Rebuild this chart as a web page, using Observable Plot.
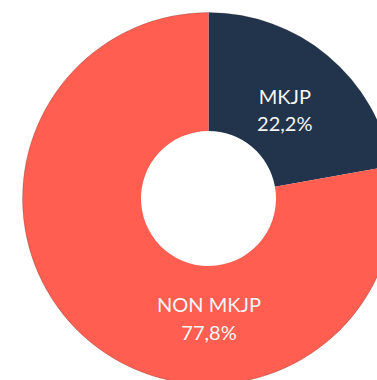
<!DOCTYPE html>
<html>
<head>
<meta charset="utf-8">
<script src="https://cdn.jsdelivr.net/npm/d3@7"></script>
<script src="https://cdn.jsdelivr.net/npm/@observablehq/plot@0.6"></script>
<style>
  html, body { margin: 0; padding: 0; background: #fff; }
  #chart { width: 377px; height: 380px; }
</style>
</head>
<body>
<div id="chart"></div>
<script>
// Data
const categories = ["MKJP", "NON MKJP"];
const values = [22.2, 77.8];
const valueLabels = ["22,2%", "77,8%"];
const colors = ["#22344b", "#ff5e50"];

// Layout
const W = 377, H = 380;
const R_OUTER = 186, R_INNER = 67.5, R_LABEL = 118;
const labelAngleOverride = [null, Math.PI]; // large slice label sits at the bottom

const data = categories.map((c, i) => ({category: c, value: values[i], label: valueLabels[i], color: colors[i]}));
const arcs = d3.pie().sort(null).value(d => d.value)(data);

const labelData = arcs.map((a, i) => {
  const ang = labelAngleOverride[i] ?? (a.startAngle + a.endAngle) / 2;
  return {
    x: R_LABEL * Math.sin(ang),
    y: R_LABEL * Math.cos(ang),
    text: a.data.category + "\n" + a.data.label
  };
});

const donutMark = (index, scales) => {
  const g = d3.create("svg:g")
    .attr("transform", `translate(${scales.x(0)},${scales.y(0)})`);
  const k = Math.abs(scales.x(1) - scales.x(0));
  const arc = d3.arc().innerRadius(R_INNER * k).outerRadius(R_OUTER * k);
  g.selectAll("path")
    .data(arcs)
    .join("path")
    .attr("d", arc)
    .attr("fill", d => d.data.color)
    .attr("stroke", "none");
  g.append("circle")
    .attr("r", R_OUTER * k)
    .attr("fill", "none")
    .attr("stroke", "rgba(40,40,40,0.35)")
    .attr("stroke-width", 0.6);
  return g.node();
};

const chart = Plot.plot({
  width: W,
  height: H,
  margin: 0,
  x: {type: "linear", domain: [-208.5, W - 208.5], range: [0, W], axis: null},
  y: {type: "linear", domain: [-(H - 198.5), 198.5], range: [H, 0], axis: null},
  style: {background: "#fff", fontFamily: "Lato, 'Open Sans', sans-serif"},
  marks: [
    donutMark,
    Plot.text(labelData, {
      x: "x", y: "y", text: "text",
      fill: "#f6f6f6",
      fontSize: 20,
      fontWeight: 400,
      lineHeight: 1.38,
      textAnchor: "middle",
      lineAnchor: "middle"
    })
  ]
});

document.getElementById("chart").appendChild(chart);
</script>
</body>
</html>
